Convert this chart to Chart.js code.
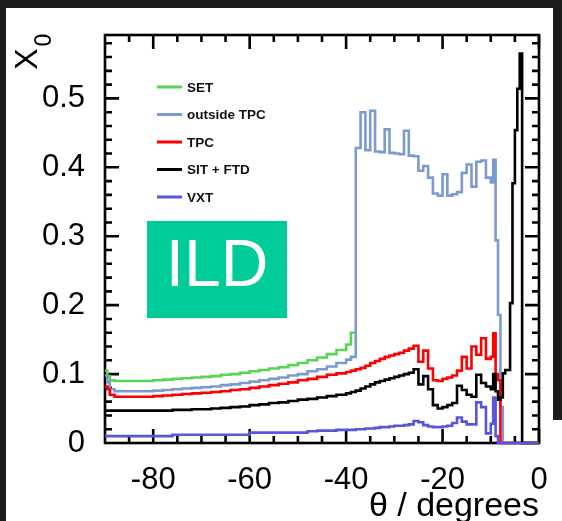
<!DOCTYPE html>
<html lang="es">
<head>
<meta charset="utf-8">
<title>X0 frente a theta - ILD</title>
<script src="https://cdn.jsdelivr.net/npm/chart.js@4.4.1/dist/chart.umd.min.js"></script>
<style>
  html, body { margin: 0; padding: 0; }
  body { width: 562px; height: 521px; background: #1c1c1c; position: relative; overflow: hidden; }
  #hoja { position: absolute; left: 6px; top: 8px; right: 0; bottom: 0; background: #fff; }
  #borde-derecho { position: absolute; left: 553px; top: 0; width: 9px; height: 420px; background: #1c1c1c; }
  #contenedor { position: absolute; left: 0; top: 0; width: 562px; height: 521px; }
</style>
</head>
<body>
<div id="hoja"></div>
<div id="borde-derecho"></div>
<div id="contenedor"><canvas id="grafico-x0"></canvas></div>
<script>
// Bordes de los bins en theta (grados): anchos en el barril, finos hacia delante
const bordesTheta = [
    -90, -89.5, -89, -88, -86, -84, -82, -80, -78, -76, -74, -72, -70, -68, -66, -64,
    -62, -60, -58, -56, -54, -52, -50, -48, -46, -44, -42, -40,
    -39, -38, -37, -36, -35, -34, -33, -32, -31, -30, -29, -28, -27, -26, -25, -24,
    -23, -22, -21, -20, -19, -18, -17, -16, -15, -14, -13, -12, -11, -10,
    -9.5, -9, -8.5, -8, -7.5, -7, -6.5, -6, -5.5, -5, -4.5, -4, -3.5, -3, -2.5,
    -2, -1.5, -1, -0.5, 0
];

const nombresSubdetectores = ['SET', 'outside TPC', 'TPC', 'SIT + FTD', 'VXT'];
const coloresSubdetectores = ['#59d454', '#7d99d1', '#ff0000', '#000000', '#5954d9'];

// X0 acumulado por bin (cada curva incluye el material de las de dentro)
// El SET solo cubre el barril, por eso su lista es más corta
const x0SET = [
    0.105, 0.097, 0.091,
    0.090, 0.090, 0.090, 0.090, 0.091, 0.092, 0.093, 0.094, 0.095, 0.096, 0.097, 0.099,
    0.100, 0.102, 0.104, 0.106, 0.108, 0.110, 0.113, 0.116, 0.120, 0.124, 0.129, 0.135,
    0.143, 0.160
];
const x0FueraTPC = [
    0.098, 0.088, 0.078,
    0.075, 0.075, 0.075, 0.075, 0.076, 0.077, 0.078, 0.079, 0.080, 0.081, 0.082, 0.084,
    0.085, 0.087, 0.089, 0.091, 0.093, 0.095, 0.098, 0.100, 0.104, 0.107, 0.111, 0.116,
    0.121,
    0.125, 0.428, 0.480, 0.425, 0.482, 0.423, 0.422, 0.455, 0.421, 0.420,
    0.419, 0.453, 0.417, 0.416, 0.395, 0.402, 0.385, 0.362, 0.359, 0.390,
    0.359, 0.361, 0.364, 0.392, 0.404, 0.372, 0.408, 0.410, 0.385,
    0.378, 0.411, 0.294, 0.186, 0.052,
    0, 0, 0, 0, 0, 0, 0, 0, 0, 0, 0, 0, 0, 0, 0
];
const x0TPC = [
    0.082, 0.078, 0.070,
    0.067, 0.067, 0.067, 0.067, 0.068, 0.069, 0.070, 0.071, 0.072, 0.073, 0.074, 0.075,
    0.077, 0.078, 0.080, 0.082, 0.084, 0.086, 0.088, 0.091, 0.093, 0.096, 0.099, 0.101,
    0.103,
    0.105, 0.107, 0.109, 0.112, 0.116, 0.119, 0.122, 0.125, 0.127, 0.129,
    0.131, 0.134, 0.137, 0.141, 0.118, 0.134, 0.108, 0.091, 0.090, 0.093,
    0.095, 0.098, 0.105, 0.125, 0.108, 0.140, 0.128, 0.152, 0.122,
    0.125, 0.159, 0.100, 0.091,
    0, 0, 0, 0, 0, 0, 0, 0, 0, 0, 0, 0, 0, 0, 0, 0
];
const x0SITFTD = [
    0.047, 0.047, 0.047,
    0.047, 0.047, 0.047, 0.047, 0.047, 0.047, 0.048, 0.048, 0.049, 0.049, 0.050, 0.051,
    0.052, 0.053, 0.055, 0.056, 0.058, 0.059, 0.061, 0.063, 0.064, 0.066, 0.068, 0.070,
    0.072,
    0.074, 0.076, 0.079, 0.082, 0.085, 0.088, 0.090, 0.092, 0.094, 0.096,
    0.098, 0.100, 0.102, 0.107, 0.085, 0.097, 0.078, 0.055, 0.050, 0.052,
    0.055, 0.058, 0.083, 0.077, 0.070, 0.067, 0.099, 0.087, 0.082,
    0.078, 0.100, 0.075, 0.063, 0.066, 0.101, 0.106, 0.106, 0.203, 0.377, 0.454, 0.514, 0.565,
    0, 0, 0, 0, 0, 0, 0, 0
];
const x0VXT = [
    0.010, 0.010, 0.010,
    0.010, 0.010, 0.010, 0.010, 0.010, 0.010, 0.012, 0.012, 0.012, 0.012, 0.012, 0.012,
    0.012, 0.012, 0.015, 0.015, 0.015, 0.015, 0.015, 0.015, 0.017, 0.018, 0.018, 0.019,
    0.019,
    0.019, 0.020, 0.020, 0.021, 0.021, 0.022, 0.023, 0.023, 0.024, 0.025,
    0.025, 0.026, 0.027, 0.032, 0.030, 0.026, 0.024, 0.023, 0.023, 0.024,
    0.025, 0.029, 0.037, 0.031, 0.027, 0.027, 0.059, 0.052, 0.014,
    0.028, 0.066, 0.010,
    0, 0, 0, 0, 0, 0, 0, 0, 0, 0, 0, 0, 0, 0, 0, 0, 0
];

// Ejes
const ticksTheta = [-80, -60, -40, -20, 0];
const ticksX0 = [0, 0.1, 0.2, 0.3, 0.4, 0.5];
const pasoMenorTheta = 5;
const pasoMenorX0 = 0.02;
const thetaMin = -90;
const thetaMax = 0;
const x0Max = 0.592;

const fuente = '"Liberation Sans", Arial, Helvetica, sans-serif';

// Convierte una lista de valores por bin en el contorno escalonado del histograma
function puntosHistograma(valores) {
    const puntos = [];
    valores.forEach((v, i) => {
        if (v === null || v === undefined) {
            puntos.push({ x: bordesTheta[i], y: null });
            return;
        }
        puntos.push({ x: bordesTheta[i], y: v });
        puntos.push({ x: bordesTheta[i + 1], y: v });
    });
    return puntos;
}

function esMarcaMayor(lista, valor) {
    return lista.some(v => Math.abs(v - valor) < 1e-9);
}

// Marco cerrado con marcas hacia dentro en los cuatro lados
const pluginMarco = {
    id: 'marco',
    beforeDatasetsDraw(chart) {
        const { ctx, chartArea: a, scales } = chart;
        ctx.save();
        ctx.strokeStyle = '#000';
        ctx.lineWidth = 2.6;
        ctx.beginPath();
        for (let t = thetaMin + pasoMenorTheta; t < thetaMax + 1e-9; t += pasoMenorTheta) {
            const px = scales.x.getPixelForValue(t);
            const largo = esMarcaMayor(ticksTheta, t) ? 14 : 7;
            ctx.moveTo(px, a.bottom);
            ctx.lineTo(px, a.bottom - largo);
            ctx.moveTo(px, a.top);
            ctx.lineTo(px, a.top + largo);
        }
        for (let k = 1; k * pasoMenorX0 < x0Max; k++) {
            const v = Math.round(k * pasoMenorX0 * 1000) / 1000;
            const py = scales.y.getPixelForValue(v);
            const largo = esMarcaMayor(ticksX0, v) ? 14 : 7;
            ctx.moveTo(a.left, py);
            ctx.lineTo(a.left + largo, py);
            ctx.moveTo(a.right, py);
            ctx.lineTo(a.right - largo, py);
        }
        ctx.stroke();
        ctx.strokeRect(a.left, a.top, a.right - a.left, a.bottom - a.top);
        ctx.restore();
    }
};

// Leyenda, etiqueta ILD y título del eje Y (X con subíndice 0)
const pluginAnotaciones = {
    id: 'anotaciones',
    afterDraw(chart) {
        const ctx = chart.ctx;
        ctx.save();

        chart.data.datasets.forEach((ds, i) => {
            const y = 87 + i * 27.5;
            ctx.strokeStyle = ds.borderColor;
            ctx.lineWidth = 3;
            ctx.beginPath();
            ctx.moveTo(157, y);
            ctx.lineTo(182, y);
            ctx.stroke();
            ctx.fillStyle = '#111';
            ctx.font = `bold 13.5px ${fuente}`;
            ctx.textAlign = 'left';
            ctx.textBaseline = 'middle';
            ctx.fillText(ds.label, 187, y + 1);
        });

        ctx.fillStyle = '#00cc99';
        ctx.fillRect(147, 221, 140, 97);
        ctx.fillStyle = '#ffffff';
        ctx.font = `66px ${fuente}`;
        ctx.textAlign = 'center';
        ctx.textBaseline = 'middle';
        ctx.fillText('ILD', 217, 268);

        ctx.translate(28, 59);
        ctx.rotate(-Math.PI / 2);
        ctx.fillStyle = '#000';
        ctx.font = `32px ${fuente}`;
        ctx.fillText('X', 0, 0);
        ctx.font = `23px ${fuente}`;
        ctx.fillText('0', 19, 17);

        ctx.restore();
    }
};

const seriesX0 = [x0SET, x0FueraTPC, x0TPC, x0SITFTD, x0VXT];

const grafico = new Chart(document.getElementById('grafico-x0'), {
    type: 'line',
    data: {
        datasets: seriesX0.map((valores, i) => ({
            label: nombresSubdetectores[i],
            data: puntosHistograma(valores),
            borderColor: coloresSubdetectores[i],
            borderWidth: 2.6,
            pointRadius: 0,
            fill: false,
            tension: 0,
            spanGaps: false,
            clip: 4,
            // el VXT queda encima de todo, el SET debajo
            order: seriesX0.length - 1 - i
        }))
    },
    options: {
        responsive: true,
        maintainAspectRatio: false,
        animation: false,
        events: [],
        layout: { padding: { top: 35, right: 23, bottom: 0, left: 0 } },
        plugins: {
            legend: { display: false },
            tooltip: { enabled: false }
        },
        scales: {
            x: {
                type: 'linear',
                min: thetaMin,
                max: thetaMax,
                afterBuildTicks: s => { s.ticks = ticksTheta.map(v => ({ value: v })); },
                afterFit: s => { s.height = 78; },
                grid: { display: false },
                border: { display: false },
                ticks: {
                    color: '#000',
                    padding: 11,
                    maxRotation: 0,
                    font: { family: fuente, size: 31 },
                    callback: v => String(v)
                },
                title: {
                    display: true,
                    text: 'θ / degrees',
                    align: 'end',
                    color: '#000',
                    padding: 0,
                    font: { family: fuente, size: 34, lineHeight: 0.85 }
                }
            },
            y: {
                type: 'linear',
                min: 0,
                max: x0Max,
                afterBuildTicks: s => { s.ticks = ticksX0.map(v => ({ value: v })); },
                afterFit: s => { s.width = 105; },
                grid: { display: false },
                border: { display: false },
                ticks: {
                    color: '#000',
                    padding: 12,
                    font: { family: fuente, size: 31 },
                    callback: v => (v === 0 ? '0' : v.toFixed(1))
                }
            }
        }
    },
    plugins: [pluginMarco, pluginAnotaciones]
});
</script>
</body>
</html>
